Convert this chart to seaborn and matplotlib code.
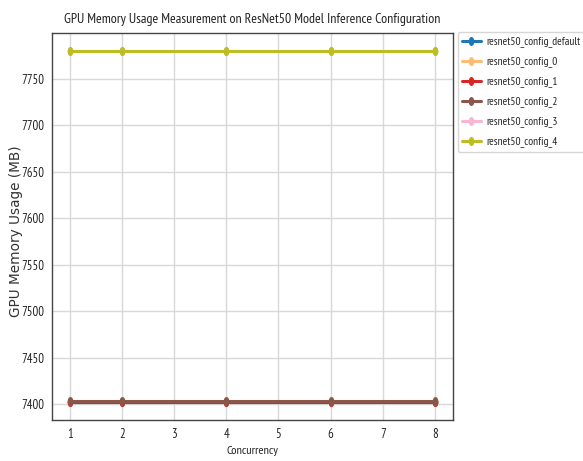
import matplotlib
matplotlib.use("Agg")
import matplotlib.pyplot as plt
from matplotlib.path import Path
import seaborn as sns
import pandas as pd

concurrency = [1, 2, 4, 6, 8]
configs = ["resnet50_config_default", "resnet50_config_0", "resnet50_config_1",
           "resnet50_config_2", "resnet50_config_3", "resnet50_config_4"]
mem_default = [7402, 7402, 7402, 7402, 7402]
mem_config_0 = [7402, 7402, 7402, 7402, 7402]
mem_config_1 = [7402, 7402, 7402, 7402, 7402]
mem_config_2 = [7403, 7403, 7403, 7403, 7403]
mem_config_3 = [7780, 7780, 7780, 7780, 7780]
mem_config_4 = [7780, 7780, 7780, 7780, 7780]
colors = ["#1f77b4", "#ffbb78", "#d62728", "#8c564b", "#f7b6d2", "#bcbd22"]

series = [mem_default, mem_config_0, mem_config_1, mem_config_2, mem_config_3, mem_config_4]
rows = []
for name, vals in zip(configs, series):
    for c, v in zip(concurrency, vals):
        rows.append({"Concurrency": c, "Memory": v, "Config": name})
df = pd.DataFrame(rows)

sns.set_style("white")
plt.rcParams["font.family"] = ["PT Sans Narrow", "DejaVu Sans"]

# narrow oval point marker
circ = Path.unit_circle()
oval = Path(circ.vertices * [0.62, 1.0], circ.codes)

fig = plt.figure(figsize=(5.83, 4.61), dpi=100)
ax = fig.add_axes([0.089, 0.089, 0.688, 0.839])

sns.lineplot(data=df, x="Concurrency", y="Memory", hue="Config", hue_order=configs,
             palette=dict(zip(configs, colors)), marker=oval, markersize=6.5,
             markeredgewidth=0, linewidth=2.2, ax=ax)

ax.grid(True, color="#d8d8d8", linewidth=1.0)
ax.set_axisbelow(True)
for s in ax.spines.values():
    s.set_color("#444444")
    s.set_linewidth(1.0)
ax.tick_params(axis="both", length=4, width=0.9, color="#444444",
               labelsize=9.2, labelcolor="#222222", pad=1.5)
ax.set_xticks(range(1, 9))

ax.set_title("GPU Memory Usage Measurement on ResNet50 Model Inference Configuration",
             fontsize=10.0, color="#222222", pad=7)
ax.set_xlabel("Concurrency", fontsize=8.8, color="#222222", labelpad=4)
ax.set_ylabel("GPU Memory Usage (MB)", fontsize=9.8, color="#333333",
              family="DejaVu Sans")
ax.yaxis.set_label_coords(-0.072, 0.487)

leg = ax.legend(loc="upper left", bbox_to_anchor=(1.012, 1.003), fontsize=8.2,
                frameon=True, handlelength=1.6, handletextpad=0.5, borderpad=0.4,
                labelspacing=0.8, borderaxespad=0)
leg.get_frame().set_edgecolor("#cccccc")

fig.savefig("out.png", dpi=100)
